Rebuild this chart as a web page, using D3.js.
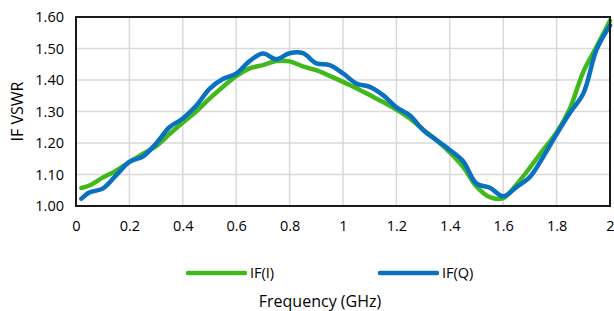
<!DOCTYPE html>
<html lang="en">
<head>
<meta charset="utf-8">
<script src="https://d3js.org/d3.v7.min.js"></script>
<title>IF VSWR</title>
<style>
  body { margin: 0; background: #fff; }
  svg text { font-family: "Open Sans", sans-serif; fill: #000; }
</style>
</head>
<body>
<div id="chart"></div>
<script>
// frequency points (GHz)
const freq = [0.02, 0.05, 0.10, 0.15, 0.20, 0.25, 0.30, 0.35, 0.40, 0.45, 0.50,
              0.55, 0.60, 0.65, 0.70, 0.75, 0.80, 0.85, 0.90, 0.95, 1.00,
              1.05, 1.10, 1.15, 1.20, 1.25, 1.30, 1.35, 1.40, 1.45, 1.50,
              1.55, 1.60, 1.65, 1.70, 1.75, 1.80, 1.85, 1.90, 1.95, 2.00];
const vswrI = [1.057, 1.065, 1.090, 1.112, 1.140, 1.165, 1.190, 1.228, 1.265, 1.300, 1.341,
               1.378, 1.412, 1.437, 1.447, 1.460, 1.459, 1.443, 1.431, 1.413, 1.394,
               1.374, 1.352, 1.330, 1.306, 1.278, 1.243, 1.209, 1.170, 1.124, 1.062,
               1.028, 1.025, 1.068, 1.122, 1.178, 1.233, 1.310, 1.426, 1.506, 1.588];
const vswrQ = [1.023, 1.043, 1.055, 1.097, 1.140, 1.157, 1.198, 1.250, 1.278, 1.318, 1.372,
               1.403, 1.420, 1.460, 1.484, 1.466, 1.485, 1.485, 1.453, 1.447, 1.421,
               1.389, 1.378, 1.352, 1.313, 1.288, 1.241, 1.209, 1.178, 1.142, 1.071,
               1.058, 1.031, 1.060, 1.092, 1.156, 1.228, 1.296, 1.357, 1.497, 1.573];
const seriesNames = ["IF(I)", "IF(Q)"];
const seriesColors = ["#41b81c", "#0a70c0"];
const xTicks = [0, 0.2, 0.4, 0.6, 0.8, 1, 1.2, 1.4, 1.6, 1.8, 2];
const yTicks = [1.0, 1.1, 1.2, 1.3, 1.4, 1.5, 1.6];

const W = 614, H = 311;
const margin = {top: 17, right: 4, bottom: 105, left: 76};
const width = W - margin.left - margin.right;
const height = H - margin.top - margin.bottom;

const svg = d3.select("#chart").append("svg")
    .attr("width", W).attr("height", H);
const g = svg.append("g")
    .attr("transform", `translate(${margin.left},${margin.top})`);

const x = d3.scaleLinear().domain([0, 2]).range([0, width]);
const y = d3.scaleLinear().domain([1.0, 1.6]).range([height, 0]);

// gridlines
g.append("g").selectAll("line").data(xTicks).join("line")
    .attr("x1", d => x(d)).attr("x2", d => x(d))
    .attr("y1", 0).attr("y2", height)
    .attr("stroke", "#d9d9d9").attr("stroke-width", 1.5);
g.append("g").selectAll("line").data(yTicks).join("line")
    .attr("x1", 0).attr("x2", width)
    .attr("y1", d => y(d)).attr("y2", d => y(d))
    .attr("stroke", "#d9d9d9").attr("stroke-width", 1.5);

// axes (labels only)
const xAxis = g.append("g")
    .attr("transform", `translate(0,${height})`)
    .call(d3.axisBottom(x).tickValues(xTicks).tickSize(0).tickPadding(15).tickFormat(d3.format("")));
const yAxis = g.append("g")
    .call(d3.axisLeft(y).tickValues(yTicks).tickSize(0).tickPadding(12).tickFormat(d3.format(".2f")));
[xAxis, yAxis].forEach(a => {
    a.select(".domain").remove();
    a.selectAll("text").style("font-size", "14.5px").attr("fill", "#000");
});

// lines
const line = d3.line()
    .x(d => x(d[0]))
    .y(d => y(d[1]))
    .curve(d3.curveCatmullRom.alpha(0.5));

[vswrI, vswrQ].forEach((vals, i) => {
    g.append("path")
        .datum(freq.map((f, j) => [f, vals[j]]))
        .attr("fill", "none")
        .attr("stroke", seriesColors[i])
        .attr("stroke-width", 4.5)
        .attr("stroke-linejoin", "round")
        .attr("stroke-linecap", "round")
        .attr("d", line);
});

// plot border
g.append("rect")
    .attr("x", 0).attr("y", 0)
    .attr("width", width).attr("height", height)
    .attr("fill", "none")
    .attr("stroke", "#1a1a1a")
    .attr("stroke-width", 2);

// y title
svg.append("text")
    .attr("transform", `translate(23,${margin.top + height / 2}) rotate(-90)`)
    .attr("text-anchor", "middle")
    .style("font-size", "16px")
    .text("IF VSWR");

// x title
svg.append("text")
    .attr("x", 320).attr("y", 307)
    .attr("text-anchor", "middle")
    .style("font-size", "16px")
    .text("Frequency (GHz)");

// legend
const legendX = [188, 380];
seriesNames.forEach((name, i) => {
    const lg = svg.append("g").attr("transform", `translate(${legendX[i]},273)`);
    lg.append("line")
        .attr("x1", 0).attr("x2", 57)
        .attr("stroke", seriesColors[i])
        .attr("stroke-width", 4.5)
        .attr("stroke-linecap", "round");
    lg.append("text")
        .attr("x", 62).attr("y", 5)
        .style("font-size", "14.5px")
        .text(name);
});
</script>
</body>
</html>
